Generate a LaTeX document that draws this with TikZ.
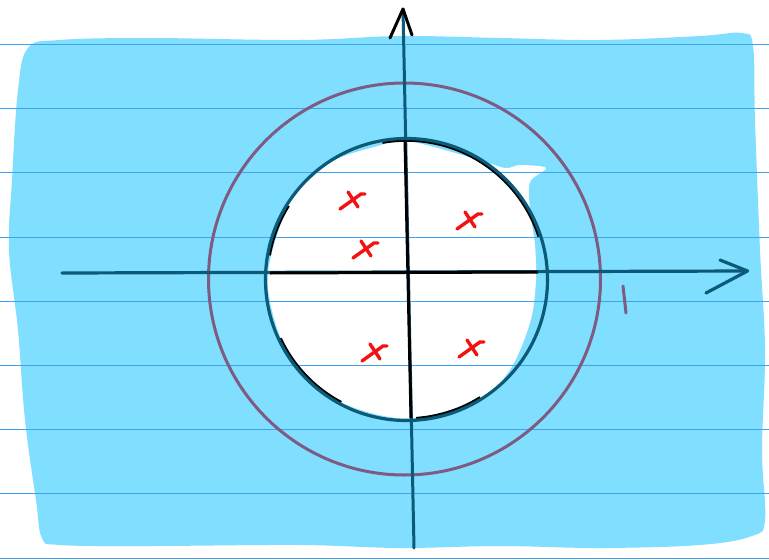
\documentclass[tikz,border=0pt]{standalone}
\usepackage{xcolor}
\usepackage{tikz}
\usetikzlibrary{calc}
\definecolor{paper}{HTML}{80DEFF}
\definecolor{rule}{HTML}{3FA2EE}
\definecolor{axis}{HTML}{0B5A78}
\definecolor{ring}{HTML}{7E5B80}
\definecolor{pole}{HTML}{F21212}
\newcommand{\polemark}[2]{%
  \draw[pole,line width=3.4pt,line cap=round] ($(#1,#2)+(-13,9)$) .. controls ($(#1,#2)+(-2,1)$) .. ($(#1,#2)+(8,-6)$) -- ($(#1,#2)+(12,-6)$);
  \draw[pole,line width=3.4pt,line cap=round] ($(#1,#2)+(-5,-8)$) -- ($(#1,#2)+(5,7)$);
}

\begin{document}
\begin{tikzpicture}[x=1pt,y=-1pt]
\useasboundingbox (0,0) rectangle (769,560);
\fill[white] (0,0) rectangle (769,560);

% coloured-in background
\fill[paper] plot[smooth cycle,tension=0.6] coordinates {
  (28,48) (60,40) (150,38) (300,40) (400,36) (500,38) (600,40) (700,36) (742,33)
  (753,46) (755,120) (760,250) (765,350) (762,450) (765,520) (752,536)
  (700,545) (600,548) (500,546) (400,548) (300,545) (150,546) (60,545) (42,538)
  (36,500) (25,420) (18,330) (9,250) (12,180) (18,90)};

% unit disc left blank
\fill[white] plot[smooth cycle,tension=0.5] coordinates {
  (406,140.5) (476,159) (505,168) (520,165) (546,168) (530,182)
  (530,210) (535,245) (536,280) (532,315) (521,348) (507,374)
  (480,400) (406,418.5) (337,400) (286,349) (267.5,279.5)
  (286,210) (308,181) (337,159) (378,146)};

% ruled lines
\foreach \k in {0,...,8}
  \draw[rule,line width=1pt] (0,{44.5+64.2*\k}) -- (769,{44.5+64.2*\k});

\coordinate (o) at (406.5,279.5);

% black pencil under the ink circle
\draw[black,line width=2.6pt] ($(o)+(-100:139)$) arc (-100:-18:139);
\draw[black,line width=2.6pt] ($(o)+(-170:139)$) arc (-170:-148:139);
\draw[black,line width=2.6pt] ($(o)+(118:139)$) arc (118:155:139);
\draw[black,line width=2.6pt] ($(o)+(58:139)$) arc (58:86:139);

% circles
\draw[axis,line width=3.2pt] (o) circle[radius=141];
\draw[ring,line width=3pt] (404.5,279) circle[radius=196];

% axes
\coordinate (xl) at (62,273);
\coordinate (xr) at (747.5,271);
\coordinate (xu) at (720,260);
\coordinate (xd) at (706,293);
\coordinate (yb) at (414,548);
\coordinate (yt) at (403,9);
\coordinate (yl) at (390,38);
\coordinate (yr) at (412,35);
\draw[axis,line width=3.2pt,line cap=round] (xl) -- (xr);
\draw[axis,line width=3.2pt,line cap=round,line join=round] (xu) -- (xr) -- (xd);
\draw[axis,line width=3pt,line cap=round] (yb) -- (yt);
\draw[black,line width=3pt,line cap=round,line join=round] (yl) -- (yt) -- (yr);

% black axes inside the disc
\coordinate (bl) at (270,273);
\coordinate (br) at (538,272);
\coordinate (bt) at (405,140);
\coordinate (bb) at (411,418);
\draw[black,line width=3pt] (bl) -- (br);
\draw[black,line width=3pt] (bt) -- (bb);

% poles
\foreach \px/\py in {353/200, 366/249, 470/220, 375/352, 472/348}{
  \polemark{\px}{\py}
}

% tick at 1
\coordinate (ta) at (623,286);
\coordinate (tb) at (626,313);
\draw[ring,line width=3pt,line cap=round] (ta) -- (tb);
\end{tikzpicture}
\end{document}
